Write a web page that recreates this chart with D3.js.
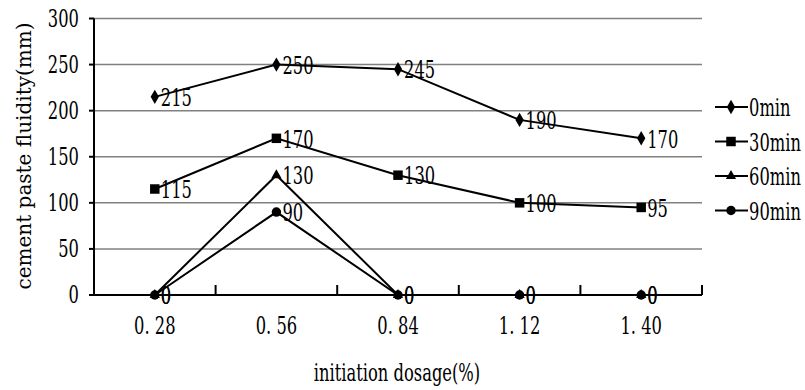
<!DOCTYPE html>
<html>
<head>
<meta charset="utf-8">
<script src="https://cdn.jsdelivr.net/npm/d3@7"></script>
<style>
  body { margin: 0; background: #fff; }
</style>
</head>
<body>
<div id="chart"></div>
<script>
const categories = ["0. 28", "0. 56", "0. 84", "1. 12", "1. 40"];
const seriesNames = ["0min", "30min", "60min", "90min"];
const min0 = [215, 250, 245, 190, 170];
const min30 = [115, 170, 130, 100, 95];
const min60 = [0, 130, 0, 0, 0];
const min90 = [0, 90, 0, 0, 0];
const yTicks = [0, 50, 100, 150, 200, 250, 300];

const width = 805;
const height = 390;
const plotLeft = 94, plotRight = 702, plotTop = 18.5, plotBottom = 295;
const fs = 24, sx = 0.68;
const serif = '"DejaVu Serif", serif';

const series = [
  { name: seriesNames[0], values: min0, symbol: d3.symbolDiamond, size: 60 },
  { name: seriesNames[1], values: min30, symbol: d3.symbolSquare, size: 90 },
  { name: seriesNames[2], values: min60, symbol: d3.symbolTriangle, size: 45 },
  { name: seriesNames[3], values: min90, symbol: d3.symbolCircle, size: 70 }
];

const svg = d3.select('#chart')
  .append('svg')
  .attr('width', width)
  .attr('height', height)

const x = d3.scaleBand()
  .domain(categories)
  .range([plotLeft, plotRight])

const y = d3.scaleLinear()
  .domain([0, 300])
  .range([plotBottom, plotTop])

// narrow looking text: scale horizontally
const label = (g, str, px, py, anchor) => {
  g.append('text')
    .attr('transform', `translate(${px},${py}) scale(${sx},1)`)
    .attr('text-anchor', anchor || 'start')
    .attr('dominant-baseline', 'central')
    .attr('font-family', serif)
    .style('font-size', fs + 'px')
    .text(str)
}

// grid
svg.append('g')
  .selectAll('line')
  .data(yTicks.filter(d => d > 0))
  .enter()
  .append('line')
  .attr('x1', plotLeft)
  .attr('x2', plotRight)
  .attr('y1', d => y(d))
  .attr('y2', d => y(d))
  .attr('stroke', '#808080')
  .attr('stroke-width', 1.5)

// y axis
const yAxis = svg.append('g')
yAxis.append('line')
  .attr('x1', plotLeft).attr('x2', plotLeft)
  .attr('y1', y(300)).attr('y2', y(0))
  .attr('stroke', '#000').attr('stroke-width', 2)
yAxis.selectAll('.tk')
  .data(yTicks)
  .enter()
  .append('line')
  .attr('x1', plotLeft - 5).attr('x2', plotLeft)
  .attr('y1', d => y(d)).attr('y2', d => y(d))
  .attr('stroke', '#000').attr('stroke-width', 2)
yTicks.forEach(t => label(yAxis, t, 79, y(t), 'end'))

// x axis
const xAxis = svg.append('g')
xAxis.append('line')
  .attr('x1', plotLeft).attr('x2', plotRight)
  .attr('y1', y(0)).attr('y2', y(0))
  .attr('stroke', '#000').attr('stroke-width', 2)
const bounds = categories.map(c => x(c)).concat([plotRight])
xAxis.selectAll('.tk')
  .data(bounds)
  .enter()
  .append('line')
  .attr('x1', d => d).attr('x2', d => d)
  .attr('y1', y(0) - 10).attr('y2', y(0))
  .attr('stroke', '#000').attr('stroke-width', 2)
categories.forEach(c => label(xAxis, c, x(c) + x.bandwidth() / 2, 326, 'middle'))

// axis titles
label(svg, 'initiation dosage(%)', 397, 373, 'middle')
svg.append('text')
  .attr('transform', `translate(24,156) rotate(-90)`)
  .attr('text-anchor', 'middle')
  .attr('dominant-baseline', 'central')
  .attr('font-family', serif)
  .style('font-size', '20px')
  .text('cement paste fluidity(mm)')

const cx = (d, i) => x(categories[i]) + x.bandwidth() / 2

const line = d3.line()
  .x(cx)
  .y(d => y(d))

// lines, markers and value labels
series.forEach(s => {
  const g = svg.append('g')
  g.append('path')
    .datum(s.values)
    .attr('d', line)
    .attr('fill', 'none')
    .attr('stroke', '#000')
    .attr('stroke-width', 2)
  g.selectAll('path.m')
    .data(s.values)
    .enter()
    .append('path')
    .attr('class', 'm')
    .attr('d', d3.symbol().type(s.symbol).size(s.size))
    .attr('transform', (d, i) => `translate(${cx(d, i)},${y(d)})`)
    .attr('fill', '#000')
  s.values.forEach((d, i) => label(g, d, cx(d, i) + 6, y(d) + 1, 'start'))
})

// legend
const legend = svg.append('g')
series.forEach((s, i) => {
  const ly = 107 + i * 34.5
  legend.append('line')
    .attr('x1', 715).attr('x2', 748)
    .attr('y1', ly).attr('y2', ly)
    .attr('stroke', '#000').attr('stroke-width', 2)
  legend.append('path')
    .attr('d', d3.symbol().type(s.symbol).size(s.size))
    .attr('transform', `translate(731,${ly})`)
    .attr('fill', '#000')
  label(legend, s.name, 749, ly + 1, 'start')
})
</script>
</body>
</html>
